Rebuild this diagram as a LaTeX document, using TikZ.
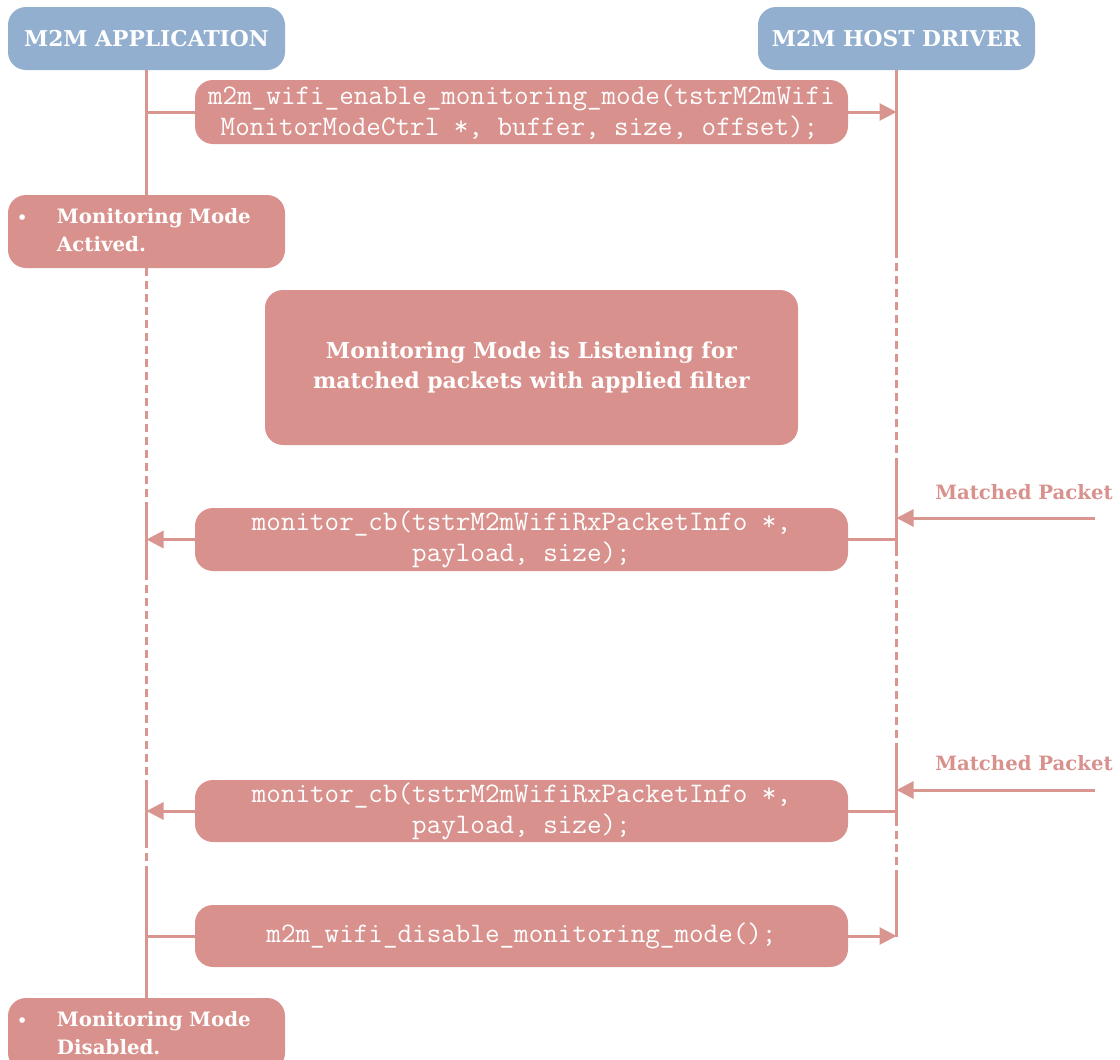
\documentclass[tikz,border=0pt]{standalone}
\usepackage{fontspec}
\usetikzlibrary{arrows.meta}
\newfontfamily\serifb{DejaVu Serif}
\definecolor{hblue}{HTML}{93AFCF}
\definecolor{boxred}{HTML}{D8918C}
\definecolor{linered}{HTML}{D99691}
\tikzset{
  hdr/.style={rounded corners=18pt, fill=hblue, text=white, font=\serifb\bfseries\fontsize{21.8}{24}\selectfont, minimum width=277pt, minimum height=63pt, inner sep=0pt},
  msg/.style={rounded corners=18pt, fill=boxred, text=white, font=\ttfamily\fontsize{28.3}{31}\selectfont, inner sep=0pt, minimum width=653pt, align=center},
  state/.style={rounded corners=18pt, fill=boxred, text=white, font=\serifb\bfseries\fontsize{19.8}{28}\selectfont, inner xsep=14pt, inner ysep=0pt, text width=249pt, minimum height=73pt, align=left},
  note/.style={rounded corners=18pt, fill=boxred, text=white, font=\serifb\bfseries\fontsize{22}{30}\selectfont, inner sep=0pt, minimum width=533pt, minimum height=155pt, align=center},
  lbl/.style={text=boxred, font=\serifb\bfseries\fontsize{19.7}{22}\selectfont, inner sep=0pt},
  life/.style={draw=linered, line width=3pt},
  lifedash/.style={life, dash pattern=on 8pt off 5pt},
  arr/.style={life, -{Triangle[length=17pt,width=17pt]}},
}
\begin{document}
\begin{tikzpicture}[x=1pt,y=-1pt]
\useasboundingbox (0,0) rectangle (1120,1060);
% headers
\node[hdr] (app) at (146.5,38.5) {M2M APPLICATION};
\node[hdr] (drv) at (896.5,38.5) {M2M HOST DRIVER};
% boxes
\node[msg, minimum height=64pt] (en) at (521.5,112) {m2m\_wifi\_enable\_monitoring\_mode(tstrM2mWifi\\\hspace*{-4pt}MonitorModeCtrl *, buffer, size, offset);};
\node[state] (act) at (146.5,231.5) {\begin{tabular}{@{}p{35pt}@{}l@{}}\hspace*{-5pt}{\fontsize{16}{16}\selectfont\textbullet} & Monitoring Mode\\ & Actived.\end{tabular}};
\node[note] (lis) at (531.5,367.5) {Monitoring Mode is Listening for\\matched packets with applied filter};
\node[msg, minimum height=63pt] (cb1) at (521.5,539.5) {monitor\_cb(tstrM2mWifiRxPacketInfo *,\\payload, size);};
\node[msg, minimum height=62pt] (cb2) at (521.5,811) {monitor\_cb(tstrM2mWifiRxPacketInfo *,\\payload, size);};
\node[msg, minimum height=62pt] (dis) at (521.5,936) {m2m\_wifi\_disable\_monitoring\_mode();};
\node[state] (dsd) at (146.5,1034.5) {\begin{tabular}{@{}p{35pt}@{}l@{}}\hspace*{-5pt}{\fontsize{16}{16}\selectfont\textbullet} & Monitoring Mode\\ & Disabled.\end{tabular}};
\node[lbl] (mp1) at (1024,492) {Matched Packet};
\node[lbl] (mp2) at (1024,763) {Matched Packet};
% lifeline coordinates (left)
\coordinate (La) at (146.5,510);
\coordinate (Lb) at (146.5,572);
\coordinate (Lc) at (146.5,787);
\coordinate (Ld) at (146.5,840);
\coordinate (Le) at (146.5,873);
\coordinate (L1) at (146.5,112);
\coordinate (L2) at (146.5,539.5);
\coordinate (L3) at (146.5,811);
\coordinate (L4) at (146.5,936);
% lifeline coordinates (right)
\coordinate (Ra) at (896.5,250);
\coordinate (Rb) at (896.5,465);
\coordinate (Rc) at (896.5,548);
\coordinate (Rd) at (896.5,750);
\coordinate (Re) at (896.5,818);
\coordinate (Rf) at (896.5,873);
\coordinate (Rg) at (896.5,937);
\coordinate (R1) at (896.5,112);
\coordinate (R2) at (896.5,539.5);
\coordinate (R3) at (896.5,811);
\coordinate (R4) at (896.5,936);
\coordinate (P1) at (896.5,518);
\coordinate (P2) at (896.5,790);
\coordinate (S1) at (1095,518);
\coordinate (S2) at (1095,790);
% left lifeline
\draw[life] (app.south) -- (act.north);
\draw[lifedash] (act.south) -- (La);
\draw[life] (La) -- (Lb);
\draw[lifedash] (Lb) -- (Lc);
\draw[life] (Lc) -- (Ld);
\draw[lifedash] (Ld) -- (Le);
\draw[life] (Le) -- (dsd.north);
% right lifeline
\draw[life] (drv.south) -- (Ra);
\draw[lifedash] (Ra) -- (Rb);
\draw[life] (Rb) -- (Rc);
\draw[lifedash] (Rc) -- (Rd);
\draw[life] (Rd) -- (Re);
\draw[lifedash] (Re) -- (Rf);
\draw[life] (Rf) -- (Rg);
% messages
\draw[life] (L1) -- (en.west);
\draw[arr] (en.east) -- (R1);
\draw[arr] (cb1.west) -- (L2);
\draw[life] (R2) -- (cb1.east);
\draw[arr] (S1) -- (P1);
\draw[arr] (cb2.west) -- (L3);
\draw[life] (R3) -- (cb2.east);
\draw[arr] (S2) -- (P2);
\draw[life] (L4) -- (dis.west);
\draw[arr] (dis.east) -- (R4);
\end{tikzpicture}
\end{document}
